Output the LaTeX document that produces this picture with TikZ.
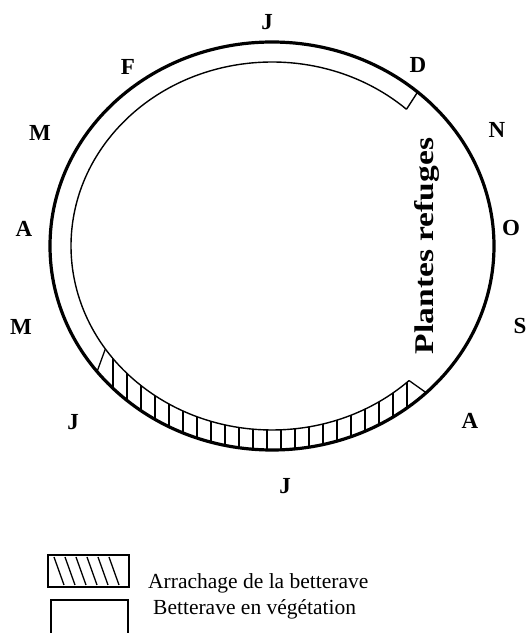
\documentclass[tikz,border=0pt]{standalone}
\usepackage{fontspec}
\setmainfont{Liberation Serif}
\usepackage{graphicx}
\usetikzlibrary{positioning,calc}

\begin{document}
\begin{tikzpicture}[
  x=1pt,y=1pt,
  month/.style={font=\fontsize{23}{26}\selectfont\bfseries,inner sep=0pt},
  legtext/.style={font=\fontsize{21.5}{24}\selectfont,anchor=base west,inner sep=0pt},
  rim/.style={line width=3.2pt},
  band/.style={line width=1.4pt},
  hatch/.style={line width=1.3pt}
]
  \useasboundingbox (0,0) rectangle (529,633);

  % Cycle
  \coordinate (c) at (272,387);
  \draw[rim] (c) ellipse [x radius=222, y radius=204];
  \draw[band] ($(c)+(48:201 and 184)$) arc [start angle=48, end angle=313, x radius=201, y radius=184];
  \draw[band] ($(c)+(48:201 and 184)$) -- ($(c)+(49:222 and 204)$);

  % Arrachage
  \draw[hatch] ($(c)+(214:201 and 184)$) -- ($(c)+(218:222 and 204)$);
  \foreach \hx in {113,127,...,407} {
    \pgfmathsetmacro\yin{387-184*sqrt(1-((\hx-272)/201)^2)}
    \pgfmathsetmacro\yout{387-204*sqrt(1-((\hx-272)/222)^2)}
    \draw[hatch] (\hx,\yin) -- (\hx,\yout);
  }
  \draw[hatch] ($(c)+(313:201 and 184)$) -- ($(c)+(314:222 and 204)$);

  \node[font=\fontsize{27}{30}\selectfont\bfseries,rotate=90,anchor=base,inner sep=0pt] (refuge) at (433,387) {\scalebox{1.24}[1]{Plantes refuges}};

  % Months
  \node[month] (jan) at (267,611) {J};
  \node[month] (feb) at (128,566) {F};
  \node[month] (mar) at (40,500) {M};
  \node[month] (apr) at (24,404) {A};
  \node[month] (may) at (21,306) {M};
  \node[month] (jun) at (73,211) {J};
  \node[month] (jul) at (285,147) {J};
  \node[month] (aug) at (470,212) {A};
  \node[month] (sep) at (520,307) {S};
  \node[month] (oct) at (511,405) {O};
  \node[month] (nov) at (497,503) {N};
  \node[month] (dec) at (418,568) {D};

  % Legend
  \draw[band] (48,46) rectangle (129,78);
  \foreach \i in {0,...,5} \draw[hatch] (54+11*\i,76) -- (64+11*\i,48);
  \draw[band] (51,0) -- (51,33) -- (128,33) -- (128,0);
  \node[legtext] (arr) at (148,45) {Arrachage de la betterave};
  \node[legtext] (veg) at (153,18) {Betterave en végétation};
\end{tikzpicture}
\end{document}
